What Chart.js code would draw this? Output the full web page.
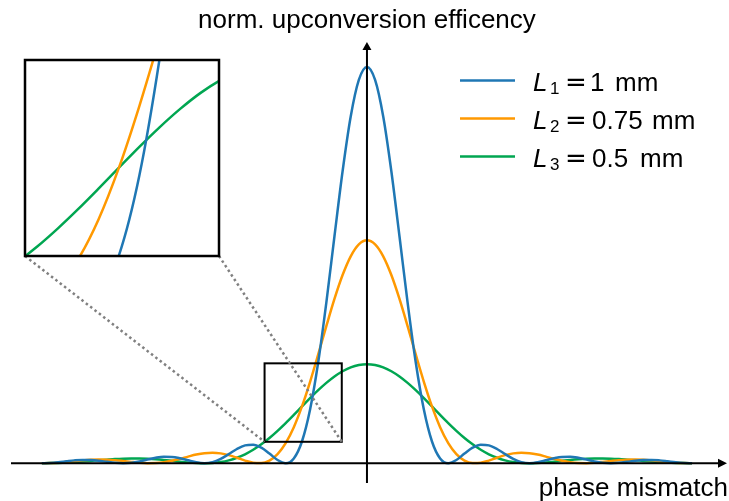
<!DOCTYPE html>
<html>
<head>
<meta charset="utf-8">
<script src="https://cdn.jsdelivr.net/npm/chart.js@4.4.1/dist/chart.umd.min.js"></script>
<style>
  body { margin: 0; background: #fff; }
  #wrap { position: relative; width: 729px; height: 501px; }
  #main-chart { position: absolute; left: 0; top: 0; }
  #inset-chart { position: absolute; }
</style>
</head>
<body>
<div id="wrap">
  <canvas id="main-chart" width="729" height="501"></canvas>
  <canvas id="inset-chart"></canvas>
</div>
<script>
// phase mismatch (arb. units, zeros of L1 curve at integers)
const phase = [
  -4.0, -3.9, -3.8, -3.7, -3.6, -3.5, -3.4, -3.3, -3.2, -3.1,
  -3.0, -2.9, -2.8, -2.7, -2.6, -2.5, -2.4, -2.3, -2.2, -2.1,
  -2.0, -1.9, -1.8, -1.7, -1.6, -1.5, -1.4, -1.3, -1.2, -1.1,
  -1.0, -0.9, -0.8, -0.7, -0.6, -0.5, -0.4, -0.3, -0.2, -0.1,
  0.0,
  0.1, 0.2, 0.3, 0.4, 0.5, 0.6, 0.7, 0.8, 0.9, 1.0,
  1.1, 1.2, 1.3, 1.4, 1.5, 1.6, 1.7, 1.8, 1.9, 2.0,
  2.1, 2.2, 2.3, 2.4, 2.5, 2.6, 2.7, 2.8, 2.9, 3.0,
  3.1, 3.2, 3.3, 3.4, 3.5, 3.6, 3.7, 3.8, 3.9, 4.0
];

// normalised efficiency, L1 = 1 mm
const effL1 = [
  0, 0.0006, 0.0024, 0.0048, 0.0071, 0.0083, 0.0079, 0.0061, 0.0034, 0.0010,
  0, 0.0012, 0.0045, 0.0091, 0.0136, 0.0162, 0.0159, 0.0125, 0.0072, 0.0022,
  0, 0.0027, 0.0108, 0.0229, 0.0358, 0.0450, 0.0468, 0.0392, 0.0243, 0.0080,
  0, 0.0119, 0.0547, 0.1353, 0.2546, 0.4053, 0.5728, 0.7368, 0.8751, 0.9675,
  1,
  0.9675, 0.8751, 0.7368, 0.5728, 0.4053, 0.2546, 0.1353, 0.0547, 0.0119, 0,
  0.0080, 0.0243, 0.0392, 0.0468, 0.0450, 0.0358, 0.0229, 0.0108, 0.0027, 0,
  0.0022, 0.0072, 0.0125, 0.0159, 0.0162, 0.0136, 0.0091, 0.0045, 0.0012, 0,
  0.0010, 0.0034, 0.0061, 0.0079, 0.0083, 0.0071, 0.0048, 0.0024, 0.0006, 0
];

// L2 = 0.75 mm
const effL2 = [
  0, 0.0004, 0.0014, 0.0031, 0.0051, 0.0071, 0.0086, 0.0092, 0.0089, 0.0077,
  0.0056, 0.0033, 0.0012, 0.0001, 0.0004, 0.0024, 0.0061, 0.0111, 0.0166, 0.0217,
  0.0253, 0.0265, 0.0248, 0.0203, 0.0137, 0.0066, 0.0013, 0.0004, 0.0067, 0.0229,
  0.0507, 0.0909, 0.1432, 0.2055, 0.2746, 0.3459, 0.4145, 0.4748, 0.5221, 0.5522,
  0.5625,
  0.5522, 0.5221, 0.4748, 0.4145, 0.3459, 0.2746, 0.2055, 0.1432, 0.0909, 0.0507,
  0.0229, 0.0067, 0.0004, 0.0013, 0.0066, 0.0137, 0.0203, 0.0248, 0.0265, 0.0253,
  0.0217, 0.0166, 0.0111, 0.0061, 0.0024, 0.0004, 0.0001, 0.0012, 0.0033, 0.0056,
  0.0077, 0.0089, 0.0092, 0.0086, 0.0071, 0.0051, 0.0031, 0.0014, 0.0004, 0
];

// L3 = 0.5 mm
const effL3 = [
  0, 0.0002, 0.0007, 0.0015, 0.0027, 0.0041, 0.0057, 0.0074, 0.0089, 0.0103,
  0.0113, 0.0118, 0.0117, 0.0110, 0.0098, 0.0081, 0.0061, 0.0039, 0.0020, 0.0006,
  0, 0.0007, 0.0030, 0.0072, 0.0137, 0.0225, 0.0338, 0.0476, 0.0636, 0.0817,
  0.1013, 0.1220, 0.1432, 0.1642, 0.1842, 0.2026, 0.2188, 0.2320, 0.2419, 0.2480,
  0.25,
  0.2480, 0.2419, 0.2320, 0.2188, 0.2026, 0.1842, 0.1642, 0.1432, 0.1220, 0.1013,
  0.0817, 0.0636, 0.0476, 0.0338, 0.0225, 0.0137, 0.0072, 0.0030, 0.0007, 0,
  0.0006, 0.0020, 0.0039, 0.0061, 0.0081, 0.0098, 0.0110, 0.0117, 0.0118, 0.0113,
  0.0103, 0.0089, 0.0074, 0.0057, 0.0041, 0.0027, 0.0015, 0.0007, 0.0002, 0
];

const seriesNames = ['1', '2', '3'];
const seriesValues = ['1 mm', '0.75 mm', '0.5 mm'];
const colors = ['#1f77b4', '#ff9900', '#00a651'];

// zoomed window (data units)
const zoomX = [-1.26, -0.31];
const zoomY = [0.054, 0.252];

// inset box on the page (px)
const inset = { left: 25, top: 60, right: 219, bottom: 256 };

const FONT = '"Liberation Sans", Arial, sans-serif';

const makeDatasets = () => [effL1, effL2, effL3].map((vals, i) => ({
  label: 'L' + seriesNames[i] + ' = ' + seriesValues[i],
  data: phase.map((x, j) => ({ x: x, y: vals[j] })),
  borderColor: colors[i],
  borderWidth: 2.5,
  pointRadius: 0,
  fill: false,
  cubicInterpolationMode: 'monotone'
}));

// axes, zoom box, connectors, labels, legend
const decorations = {
  id: 'decorations',
  afterDatasetsDraw(chart) {
    const ctx = chart.ctx;
    const area = chart.chartArea;
    const xs = chart.scales.x;
    const ys = chart.scales.y;
    const x0 = xs.getPixelForValue(0);
    const y0 = ys.getPixelForValue(0);

    ctx.save();
    ctx.strokeStyle = '#000';
    ctx.fillStyle = '#000';
    ctx.lineWidth = 2;

    // x axis
    ctx.beginPath();
    ctx.moveTo(area.left, y0);
    ctx.lineTo(area.right - 8, y0);
    ctx.stroke();
    ctx.beginPath();
    ctx.moveTo(area.right, y0);
    ctx.lineTo(area.right - 9, y0 - 4.5);
    ctx.lineTo(area.right - 9, y0 + 4.5);
    ctx.closePath();
    ctx.fill();

    // y axis
    ctx.beginPath();
    ctx.moveTo(x0, area.bottom);
    ctx.lineTo(x0, area.top + 7);
    ctx.stroke();
    ctx.beginPath();
    ctx.moveTo(x0, area.top);
    ctx.lineTo(x0 - 4.5, area.top + 8);
    ctx.lineTo(x0 + 4.5, area.top + 8);
    ctx.closePath();
    ctx.fill();

    // zoom rectangle
    const rl = xs.getPixelForValue(zoomX[0]);
    const rr = xs.getPixelForValue(zoomX[1]);
    const rt = ys.getPixelForValue(zoomY[1]);
    const rb = ys.getPixelForValue(zoomY[0]);
    ctx.lineWidth = 2;
    ctx.strokeRect(rl, rt, rr - rl, rb - rt);

    // dotted connectors
    ctx.strokeStyle = '#808080';
    ctx.lineWidth = 2.5;
    ctx.setLineDash([2.5, 3]);
    ctx.beginPath();
    ctx.moveTo(inset.left, inset.bottom);
    ctx.lineTo(rl, rb);
    ctx.moveTo(inset.right, inset.bottom);
    ctx.lineTo(rr, rb);
    ctx.stroke();
    ctx.setLineDash([]);

    // axis titles
    ctx.fillStyle = '#000';
    ctx.font = '26px ' + FONT;
    ctx.textBaseline = 'alphabetic';
    ctx.textAlign = 'center';
    ctx.fillText('norm. upconversion efficency', x0, 28);
    ctx.textAlign = 'right';
    ctx.fillText('phase mismatch', 728, 496);

    // legend
    const valX = [[590, 615], [592, 652], [592, 640]];
    seriesNames.forEach((name, i) => {
      const base = 90.5 + i * 38;
      ctx.strokeStyle = colors[i];
      ctx.lineWidth = 2.5;
      ctx.beginPath();
      ctx.moveTo(460, base - 10);
      ctx.lineTo(515, base - 10);
      ctx.stroke();

      ctx.fillStyle = '#000';
      ctx.textAlign = 'left';
      ctx.font = 'italic 26px ' + FONT;
      ctx.fillText('L', 533, base);
      ctx.font = '17px ' + FONT;
      ctx.fillText(name, 550, base + 3);
      ctx.font = '26px "DejaVu Sans", sans-serif';
      ctx.textAlign = 'center';
      ctx.fillText('=', 576, base);
      ctx.textAlign = 'left';
      ctx.font = '26px ' + FONT;
      const parts = seriesValues[i].split(' ');
      ctx.fillText(parts[0], valX[i][0], base);
      ctx.fillText(parts[1], valX[i][1], base);
    });
    ctx.restore();
  }
};

const insetFrame = {
  id: 'insetFrame',
  afterDraw(chart) {
    const ctx = chart.ctx;
    const a = chart.chartArea;
    ctx.save();
    ctx.strokeStyle = '#000';
    ctx.lineWidth = 2.5;
    ctx.strokeRect(a.left, a.top, a.right - a.left, a.bottom - a.top);
    ctx.restore();
  }
};

window.onload = () => {
  new Chart(document.getElementById('main-chart'), {
    type: 'line',
    data: { datasets: makeDatasets() },
    options: {
      responsive: false,
      animation: false,
      layout: { padding: { left: 11, right: 2, top: 42, bottom: 18 } },
      scales: {
        x: { type: 'linear', min: -4.38, max: 4.43, display: false },
        y: { type: 'linear', min: -0.05, max: 1.063, display: false }
      },
      plugins: { legend: { display: false }, tooltip: { enabled: false } }
    },
    plugins: [decorations]
  });

  // inset: same data, zoomed scales
  const pad = 2;
  const insetCanvas = document.getElementById('inset-chart');
  insetCanvas.width = inset.right - inset.left + pad * 2;
  insetCanvas.height = inset.bottom - inset.top + pad * 2;
  insetCanvas.style.left = (inset.left - pad) + 'px';
  insetCanvas.style.top = (inset.top - pad) + 'px';

  new Chart(insetCanvas, {
    type: 'line',
    data: { datasets: makeDatasets() },
    options: {
      responsive: false,
      animation: false,
      layout: { padding: pad },
      scales: {
        x: { type: 'linear', min: zoomX[0], max: zoomX[1], display: false },
        y: { type: 'linear', min: zoomY[0], max: zoomY[1], display: false }
      },
      plugins: { legend: { display: false }, tooltip: { enabled: false } }
    },
    plugins: [insetFrame]
  });
};
</script>
</body>
</html>
